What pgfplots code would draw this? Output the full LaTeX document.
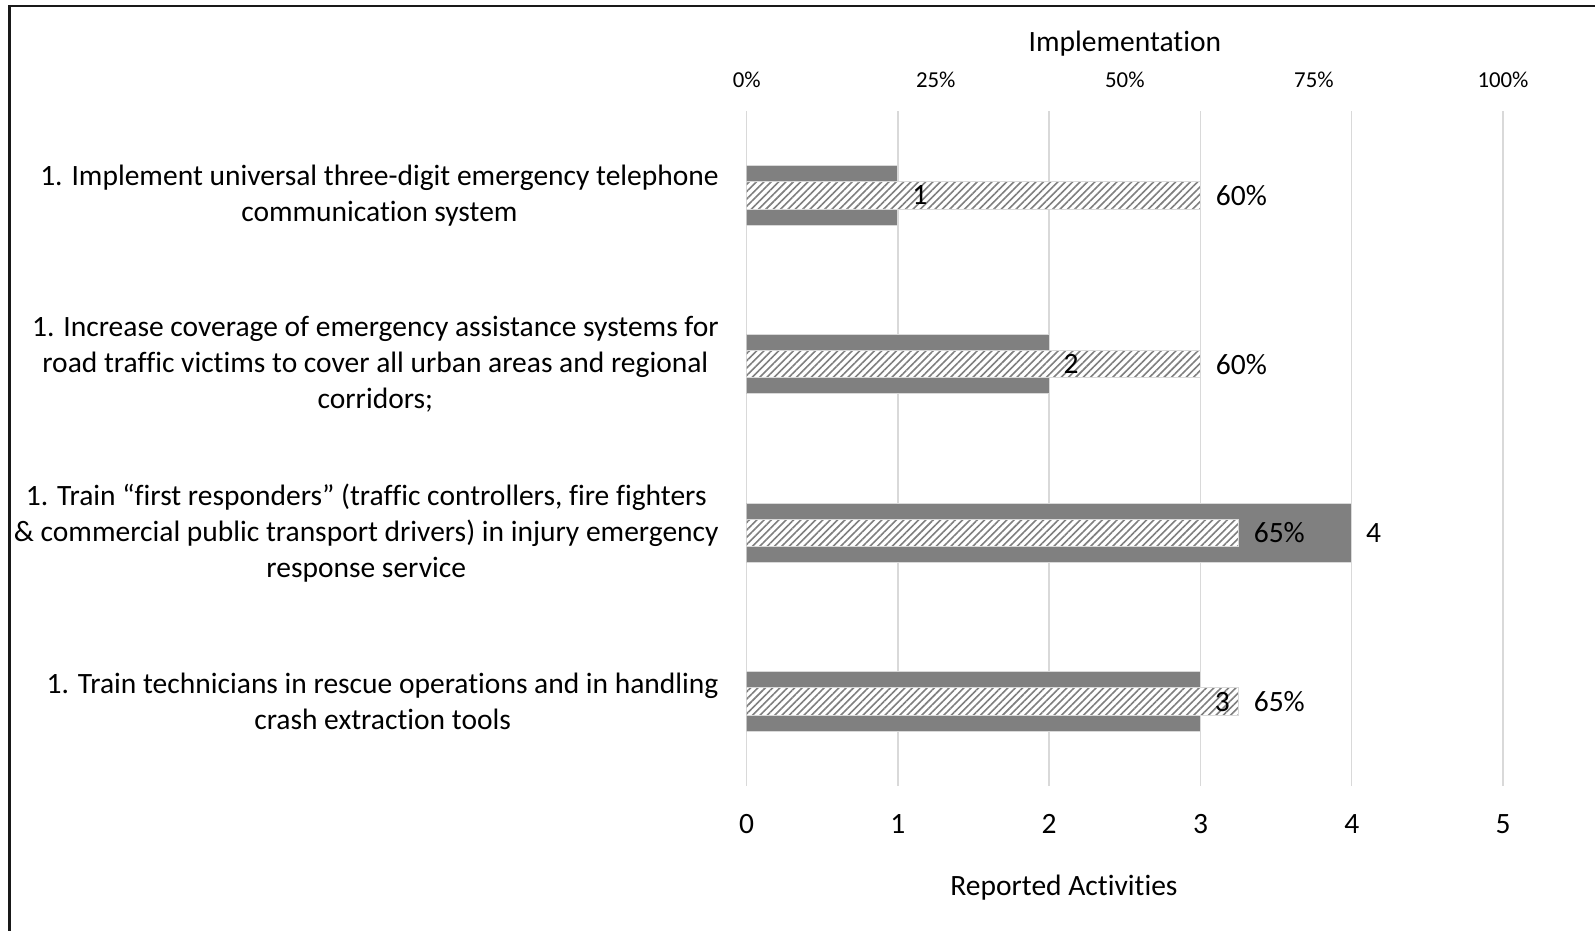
\documentclass[border=0pt]{standalone}
\usepackage{fontspec}
\setmainfont[Ligatures=NoCommon]{Carlito}
\usepackage{pgfplots}
\pgfplotsset{compat=1.18}
\usepackage{pgfplotstable}
\usetikzlibrary{patterns.meta}
\definecolor{darkbar}{HTML}{808080}
\definecolor{gridc}{HTML}{D9D9D9}
\definecolor{hatch}{HTML}{7F7F7F}

\pgfplotstableread{
pos acts impl
0 1 60
1 2 60
2 4 65
3 3 65
}\datatable

\begin{document}
\fontsize{14.75}{18}\selectfont
\begin{tikzpicture}
\pgfplotsset{
 common/.style={
  at={(373.35pt,-393pt)}, anchor=south west,
  scale only axis, width=378.15pt, height=337.5pt,
  ymin=-0.5, ymax=3.5, y dir=reverse,
  axis line style={draw=none}, major tick length=0pt,
  /pgf/number format/assume math mode=true,
  tick label style={font=\fontsize{14.75}{18}\selectfont},
  label style={font=\fontsize{14.75}{18}\selectfont},
 }
}
\begin{axis}[common,
  xmin=0, xmax=5, xtick={0,1,2,3,4,5},
  xmajorgrids, grid style={gridc, line width=0.75pt},
  xticklabel style={anchor=base, inner sep=0pt, yshift=-23.7pt},
  ytick={0,1,2,3},
  yticklabels={{1. Implement universal three-digit emergency telephone\\communication system},
   {1. Increase coverage of emergency assistance systems for\\road traffic victims to cover all urban areas and regional\\corridors;},
   {1. Train “first responders” (traffic controllers, fire fighters\\\& commercial public transport drivers) in injury emergency\\response service},
   {1. Train technicians in rescue operations and in handling\\crash extraction tools}},
  yticklabel style={align=center, anchor=east, inner sep=0pt, xshift=-13.85pt},
  xlabel={Reported Activities},
  xlabel style={at={(axis description cs:0.4195,-0.1615)}, anchor=base},
]
\addplot[xbar, bar shift=0pt, bar width=29.7pt, fill=darkbar, draw=gridc, line width=0.5pt]
  table[x=acts, y=pos] {\datatable};
\end{axis}
\begin{axis}[common,
  xmin=0, xmax=100, xtick={0,25,50,75,100},
  xticklabels={0\%,25\%,50\%,75\%,100\%},
  xticklabel pos=right,
  xticklabel style={anchor=base, inner sep=0pt, yshift=11.75pt, font=\fontsize{11.4}{14}\selectfont},
  ytick=\empty,
  xlabel={Implementation},
  xlabel style={at={(axis description cs:0.5,1.0889)}, anchor=base},
]
\addplot[xbar, bar shift=0pt, bar width=13.85pt, fill=white, draw=gridc, line width=0.5pt,
  postaction={pattern color=hatch, pattern={Lines[angle=45,distance=2.6pt,line width=0.8pt]}},
  nodes near coords={\pgfmathprintnumber{\pgfplotspointmeta}\%}, point meta=x,
  every node near coord/.append style={anchor=west, inner sep=0pt, xshift=7.5pt, text=black, font=\fontsize{14.75}{18}\selectfont}]
  table[x=impl, y=pos] {\datatable};
\addplot[draw=none, mark=none, nodes near coords, point meta=\thisrow{acts},
  every node near coord/.append style={anchor=west, inner sep=0pt, xshift=7pt, text=black, font=\fontsize{14.75}{18}\selectfont}]
  table[x expr=\thisrow{acts}*20, y=pos] {\datatable};
\end{axis}
\draw[line width=1.3pt, black!90] (4.85pt,-3.1pt) rectangle (820pt,-480pt);
\pgfresetboundingbox
\useasboundingbox (0,0) rectangle (797.5pt,-465.5pt);
\end{tikzpicture}
\end{document}
